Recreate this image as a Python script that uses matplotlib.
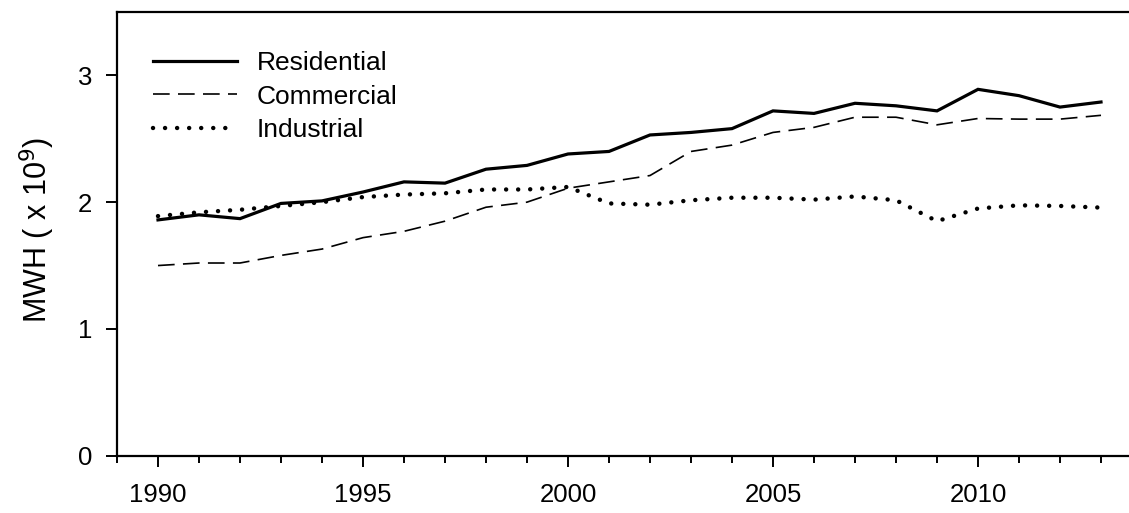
import matplotlib
matplotlib.use("Agg")
import matplotlib.pyplot as plt
from matplotlib.ticker import MultipleLocator

plt.rcParams['font.family'] = ['Liberation Sans', 'DejaVu Sans']
plt.rcParams['mathtext.fontset'] = 'custom'
plt.rcParams['mathtext.rm'] = 'Liberation Sans Narrow'
plt.rcParams['mathtext.it'] = 'Liberation Sans Narrow'

years = list(range(1990, 2014))
residential = [1.86, 1.90, 1.87, 1.99, 2.01, 2.08, 2.16, 2.15, 2.26, 2.29, 2.38, 2.40,
               2.53, 2.55, 2.58, 2.72, 2.70, 2.78, 2.76, 2.72, 2.89, 2.84, 2.75, 2.79]
commercial = [1.50, 1.52, 1.52, 1.58, 1.63, 1.72, 1.77, 1.85, 1.96, 2.00, 2.11, 2.16,
              2.21, 2.40, 2.45, 2.55, 2.59, 2.67, 2.67, 2.61, 2.66, 2.655, 2.655, 2.685]
industrial = [1.89, 1.92, 1.94, 1.97, 2.00, 2.04, 2.06, 2.07, 2.10, 2.10, 2.12, 1.99,
              1.98, 2.015, 2.035, 2.035, 2.02, 2.045, 2.015, 1.85, 1.95, 1.975, 1.97, 1.957]

fig = plt.figure(figsize=(11.29, 5.13), dpi=100)
ax = fig.add_axes([117/1129, 1-455.7/513, (1142-117)/1129, (455.7-12)/513])

ax.plot(years, residential, color='black', lw=2.3, solid_joinstyle='miter', label='Residential')
ax.plot(years, commercial, color='black', lw=1.2, dashes=(10, 5), label='Commercial')
ax.plot(years, industrial, color='black', lw=3.2, linestyle=(0, (0.01, 2.7)),
        dash_capstyle='round', label='Industrial')

ax.set_xlim(1989, 2014)
ax.set_ylim(0, 3.5)
ax.xaxis.set_major_locator(MultipleLocator(5))
ax.xaxis.set_minor_locator(MultipleLocator(1))
ax.set_yticks([0, 1, 2, 3])

for s in ['left', 'top', 'bottom']:
    ax.spines[s].set_linewidth(1.6)
ax.spines['right'].set_visible(False)

ax.tick_params(axis='both', which='major', direction='out', length=8, width=1.4,
               labelsize=18.5, color='black')
ax.tick_params(axis='x', which='major', pad=12)
ax.tick_params(axis='y', which='major', pad=10)
ax.tick_params(axis='x', which='minor', direction='out', length=5, width=1.4)

ax.set_ylabel(r'MWH ( x 10$^{9}$)', fontsize=22, family=['Liberation Sans Narrow', 'Liberation Sans'])
ax.yaxis.set_label_coords(-0.059, 0.509)

leg = ax.legend(loc='upper left', bbox_to_anchor=(0.025, 0.935), frameon=False,
                fontsize=19, handlelength=3.18, handletextpad=0.75, labelspacing=0.35,
                borderaxespad=0.0)

fig.savefig('out.png', dpi=100)
